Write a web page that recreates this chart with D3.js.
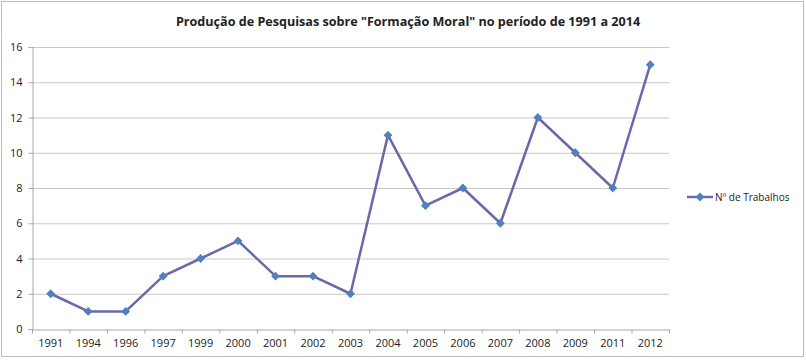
<!DOCTYPE html>
<html lang="pt">
<head>
  <meta charset="UTF-8">
  <title>Produção de Pesquisas</title>
  <script src="https://d3js.org/d3.v7.min.js"></script>
  <style>
      body { margin: 0; background: #fff; }
      text { font-family: "Open Sans", sans-serif; fill: #222; }
      .grid line { stroke: #c8c8c8; stroke-width: 1px; }
      .axis path, .axis line { stroke: #a8a8a8; }
  </style>
</head>
<body>
<svg width="806" height="361"></svg>
<script>
  const years = ["1991","1994","1996","1997","1999","2000","2001","2002","2003","2004","2005","2006","2007","2008","2009","2011","2012"];
  const trabalhos = [2, 1, 1, 3, 4, 5, 3, 3, 2, 11, 7, 8, 6, 12, 10, 8, 15];
  const yTicks = [0, 2, 4, 6, 8, 10, 12, 14, 16];

  const svg = d3.select("svg");
  const plotLeft = 32, plotRight = 669, plotTop = 47, plotBottom = 329;

  // frame
  svg.append("rect")
    .attr("x", 1.5).attr("y", 1.5)
    .attr("width", 802).attr("height", 355)
    .attr("fill", "#fff")
    .attr("stroke", "#bdbdbd");

  const x = d3.scaleBand().domain(years).range([plotLeft, plotRight]);
  const y = d3.scaleLinear().domain([0, 16]).range([plotBottom, plotTop]);

  svg.append("g")
    .attr("class", "grid")
    .selectAll("line")
    .data(yTicks.filter(d => d > 0))
    .enter().append("line")
    .attr("x1", plotLeft).attr("x2", plotRight)
    .attr("y1", d => y(d) + 0.5).attr("y2", d => y(d) + 0.5);

  // y axis
  const yAxis = svg.append("g")
    .attr("class", "axis")
    .attr("transform", `translate(${plotLeft + 0.5},0)`)
    .call(d3.axisLeft(y).tickValues(yTicks).tickSize(4).tickPadding(6));
  yAxis.selectAll("text").style("font-size", "11px");

  // x axis
  const xAxis = svg.append("g")
    .attr("class", "axis")
    .attr("transform", `translate(0,${plotBottom + 0.5})`)
    .call(d3.axisBottom(x).tickSize(0).tickPadding(10));
  xAxis.selectAll("text").style("font-size", "11px");
  xAxis.selectAll(".sep")
    .data(d3.range(years.length + 1))
    .enter().append("line")
    .attr("class", "sep")
    .attr("x1", i => plotLeft + i * x.step() + 0.5)
    .attr("x2", i => plotLeft + i * x.step() + 0.5)
    .attr("y1", 0).attr("y2", 4)
    .attr("stroke", "#a8a8a8");

  const cx = d => x(d) + x.bandwidth() / 2;

  const line = d3.line()
    .x((d, i) => cx(years[i]))
    .y(d => y(d));

  svg.append("path")
    .datum(trabalhos)
    .attr("fill", "none")
    .attr("stroke", "#6a68aa")
    .attr("stroke-width", 2.5)
    .attr("stroke-linejoin", "round")
    .attr("d", line);

  const diamond = d3.symbol().type(d3.symbolDiamond2).size(50);
  svg.append("g")
    .selectAll("path")
    .data(trabalhos)
    .enter().append("path")
    .attr("d", diamond)
    .attr("fill", "#4f81bd")
    .attr("transform", (d, i) => `translate(${cx(years[i])},${y(d)})`);

  // title
  svg.append("text")
    .attr("x", 408).attr("y", 26)
    .attr("text-anchor", "middle")
    .style("font-size", "12.6px")
    .style("font-weight", "bold")
    .text('Produção de Pesquisas sobre "Formação Moral" no período de 1991 a 2014');

  // legend
  const lg = svg.append("g").attr("transform", "translate(687,197)");
  lg.append("line").attr("x1", 0).attr("x2", 26).attr("y1", 0).attr("y2", 0)
    .attr("stroke", "#6a68aa").attr("stroke-width", 2.5);
  lg.append("path").attr("d", diamond).attr("fill", "#4f81bd")
    .attr("transform", "translate(13,0)");
  lg.append("text").attr("x", 28).attr("y", 3.5)
    .style("font-size", "10px")
    .text("Nº de Trabalhos");
</script>
</body>
</html>
